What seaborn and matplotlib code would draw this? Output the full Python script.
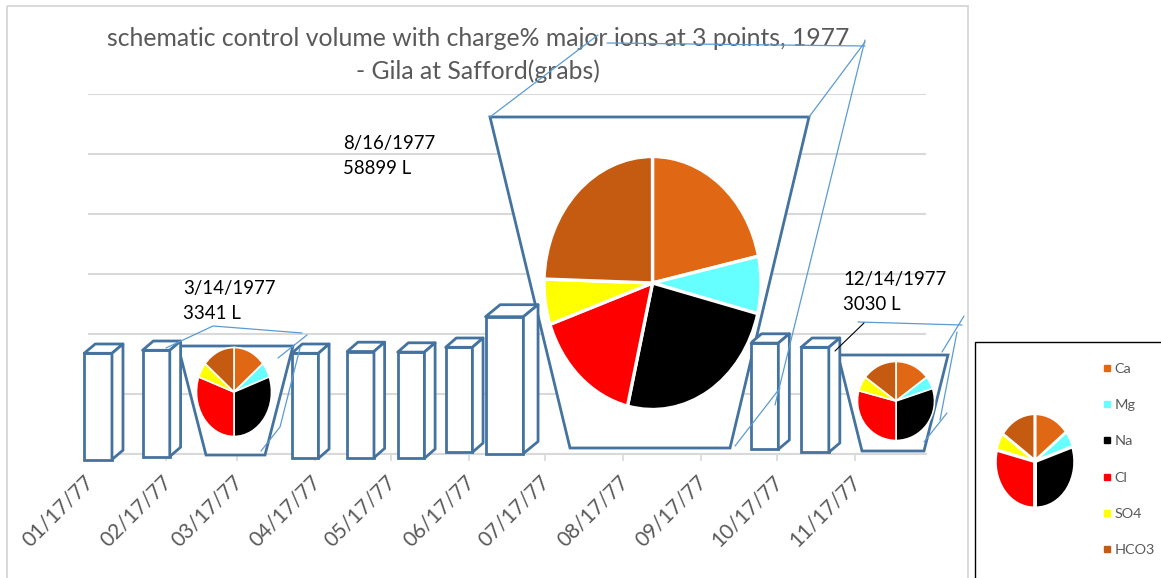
import numpy as np
import pandas as pd
import matplotlib
matplotlib.use("Agg")
import matplotlib.pyplot as plt
from matplotlib.patches import Polygon, Rectangle
from matplotlib.lines import Line2D
from matplotlib.transforms import Affine2D, ScaledTranslation
import seaborn as sns

# ---------- data ----------
tick_dates = ["1977-01-17", "1977-02-17", "1977-03-17", "1977-04-17", "1977-05-17", "1977-06-17",
              "1977-07-17", "1977-08-17", "1977-09-17", "1977-10-17", "1977-11-17"]
tick_labels = ["01/17/77", "02/17/77", "03/17/77", "04/17/77", "05/17/77", "06/17/77",
               "07/17/77", "08/17/77", "09/17/77", "10/17/77", "11/17/77"]
bar_dates = ["1977-01-21", "1977-02-13", "1977-04-13", "1977-05-05", "1977-05-25",
             "1977-06-13", "1977-07-01", "1977-10-12", "1977-11-01"]
bar_heights = [17.7, 17.7, 17.5, 17.7, 17.7, 17.5, 22.8, 17.7, 17.5]
bar_bases = [-1.0, -0.5, -0.8, -0.7, -0.8, 0.2, 0.0, 0.7, 0.2]
bar_widths = [11.0, 10.8, 10.6, 10.6, 10.6, 10.6, 15.0, 11.0, 11.0]
ions = ["Ca", "Mg", "Na", "Cl", "SO4", "HCO3"]
ion_colors = ["#E06815", "#66FFFF", "#000000", "#FF0000", "#FFFF00", "#C55A11"]
pie_march = [14.0, 5.5, 30.5, 30.5, 5.5, 14.0]
pie_august = [21.6, 7.3, 24.8, 16.0, 5.8, 24.5]
pie_december = [14.7, 5.2, 30.1, 29.2, 6.1, 14.7]
pie_legend = [14.5, 5.4, 30.1, 28.9, 5.8, 15.3]
title_text = "schematic control volume with charge% major ions at 3 points, 1977\n- Gila at Safford(grabs)"
notes = ["3/14/1977\n3341 L", "8/16/1977\n58899 L", "12/14/1977\n3030 L"]

# ---------- style ----------
W, H = 1161, 578
sns.set_theme(style="white")
plt.rcParams["font.family"] = ["Lato", "DejaVu Sans"]
BLUE = "#44739F"
WIRE = "#5B9BD5"
GRID = "#D9D9D9"
GREY = "#595959"

fig = plt.figure(figsize=(W / 100, H / 100), dpi=100, facecolor="white")
px = Affine2D().scale(1 / W, -1 / H).translate(0, 1) + fig.transFigure

def axes_box(x0, y0, x1, y1):
    return [x0 / W, 1 - y1 / H, (x1 - x0) / W, (y1 - y0) / H]

ax = fig.add_axes(axes_box(88, 93.5, 926, 453.5), zorder=1)
ax.patch.set_alpha(0)
start = pd.Timestamp(tick_dates[0])
days = [(pd.Timestamp(d) - start).days for d in bar_dates]
tick_days = [(pd.Timestamp(d) - start).days for d in tick_dates]

# ---------- bars ----------
sns.barplot(x=days, y=bar_heights, bottom=bar_bases, native_scale=True, color="white", saturation=1,
            edgecolor=BLUE, linewidth=2.0, errorbar=None, ax=ax, zorder=4, legend=False)
XMAX = 332.0
ax.set_xlim(0, XMAX)
ax.set_ylim(0, 60)
for p, w in zip(ax.patches, bar_widths):
    c = p.get_x() + p.get_width() / 2
    p.set_width(w)
    p.set_x(c - w / 2)
    p.set_clip_on(False)
    ddx, ddy = (0.36 * w + 0.4), 1.55 if w < 14 else 2.0
    x0, x1 = c - w / 2, c + w / 2
    y0, y1 = p.get_y(), p.get_y() + p.get_height()
    for pts in ([(x0, y1), (x1, y1), (x1 + ddx, y1 + ddy), (x0 + ddx, y1 + ddy)],
                [(x1, y0), (x1, y1), (x1 + ddx, y1 + ddy), (x1 + ddx, y0 + ddy)]):
        ax.add_patch(Polygon(pts, closed=True, fc="white", ec=BLUE, lw=2.0, zorder=4,
                             clip_on=False, joinstyle="round"))

# ---------- axes ----------
ax.set_yticks(np.arange(0, 61, 10))
ax.set_yticklabels([])
ax.grid(axis="y", color=GRID, lw=1.5)
ax.set_axisbelow(True)
for s in ["left", "right", "top"]:
    ax.spines[s].set_visible(False)
ax.spines["bottom"].set_color(GRID)
ax.spines["bottom"].set_linewidth(1.5)
ax.set_xticks(tick_days)
ax.set_xticklabels(tick_labels, rotation=45, ha="right", va="top", rotation_mode="anchor",
                   fontsize=15, color=GREY)
ax.tick_params(axis="x", length=5, width=1.2, color=GRID, pad=8, bottom=True)
ax.tick_params(axis="y", length=0)
shift = ScaledTranslation(-5 / 100, 0, fig.dpi_scale_trans)
for lab in ax.get_xticklabels():
    lab.set_transform(lab.get_transform() + shift)
ax.set_xlabel("")
ax.set_ylabel("")

# ---------- control volumes ----------
trapezoids = [[(178, 346), (293, 346), (265, 455), (206, 455)],
              [(490, 117), (809, 117), (730, 448), (570, 448)],
              [(838, 355), (948, 355), (924, 451), (862, 451)]]
for t in trapezoids:
    ax.add_patch(Polygon(t, closed=True, fc="white", ec=BLUE, lw=2.0, zorder=3, transform=px, clip_on=False))

wires = [[(166, 348), (213, 326), (302, 333)], [(278, 358), (307, 335)], [(300, 348), (280, 427), (261, 451)],
         [(490, 117), (598, 35)], [(607, 43), (865, 46)], [(809, 117), (865, 42)],
         [(865, 40), (775, 405)], [(735, 446), (780, 388)],
         [(858, 322), (962, 325)], [(942, 352), (964, 316)], [(957, 332), (940, 420)], [(947, 413), (924, 442)]]
for w in wires:
    xs, ys = zip(*w)
    ax.add_line(Line2D(xs, ys, color=WIRE, lw=0.9, transform=px, zorder=5, clip_on=False))
ax.add_line(Line2D([864, 835], [323, 351], color="black", lw=0.8, transform=px, zorder=5, clip_on=False))

# ---------- pies ----------
def draw_pie(values, cx, cy, rx, ry, edge=1.2, explode=None):
    pa = fig.add_axes(axes_box(cx - rx, cy - ry, cx + rx, cy + ry), zorder=3)
    pa.pie(values, colors=ion_colors, startangle=90, counterclock=False, radius=1, explode=explode,
           wedgeprops=dict(edgecolor="white", linewidth=edge))
    pa.set_aspect("auto")
    lim = 1.0 if explode is None else 1.03
    pa.set_xlim(-lim, lim)
    pa.set_ylim(-lim, lim)
    pa.patch.set_alpha(0)

draw_pie(pie_march, 234, 392, 37.5, 44.5)
draw_pie(pie_august, 652.5, 283, 108.5, 126.5, edge=2.4)
draw_pie(pie_december, 896, 401, 38.5, 39.5)
draw_pie(pie_legend, 1035, 461, 39.5, 47, edge=1.5, explode=[0.03] * 6)

# ---------- frames ----------
fig.add_artist(Rectangle((7, 6), 961, 600, fc="none", ec=GRID, lw=1.4, transform=px, zorder=0))
fig.add_artist(Rectangle((974.5, 342), 200, 260, fc="none", ec="black", lw=1.0, transform=px, zorder=6))

# ---------- text ----------
fig.text(478 / W, 1 - 27 / H, title_text, ha="center", va="top", fontsize=17.8, color=GREY, linespacing=1.5, zorder=0)
for s, (x, y) in zip(notes, [(183, 280), (343, 135), (843, 271)]):
    fig.text(x / W, 1 - y / H, s, ha="left", va="top", fontsize=13.4, color="black", linespacing=1.55, zorder=8)

handles = [Line2D([], [], marker="s", ls="none", mfc=c, mec=c, ms=5) for c in ion_colors]
fig.legend(handles, ions, loc="upper left", bbox_to_anchor=(1100 / W, 1 - 362.5 / H), frameon=False,
           fontsize=10.4, labelcolor=GREY, labelspacing=1.68, handlelength=1.0, handletextpad=0.0,
           borderpad=0, borderaxespad=0)

fig.savefig("out.png", dpi=100, facecolor="white")
